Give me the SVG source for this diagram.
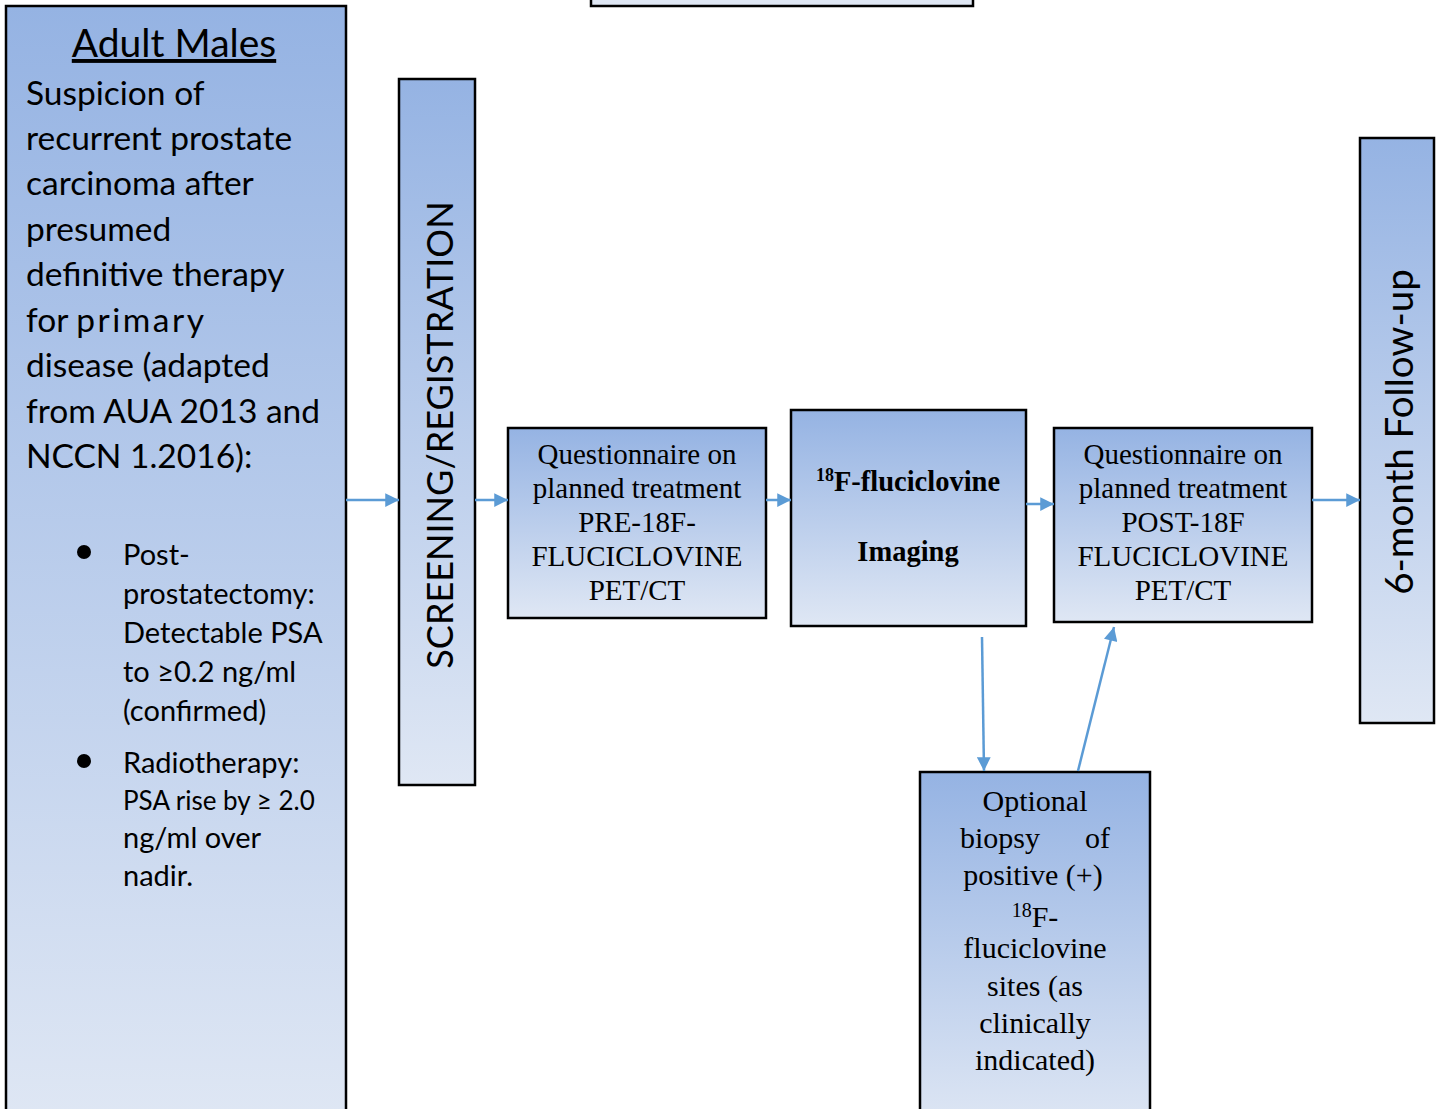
<svg xmlns="http://www.w3.org/2000/svg" width="1439" height="1109" viewBox="0 0 1439 1109">
<defs>
<linearGradient id="g" x1="0" y1="0" x2="0" y2="1">
<stop offset="0" stop-color="#95b3e3"/>
<stop offset="1" stop-color="#dfe7f4"/>
</linearGradient>
<marker id="ah" viewBox="0 0 10 10" refX="10" refY="5" markerWidth="6" markerHeight="5.5" orient="auto" markerUnits="strokeWidth">
<path d="M0,0 L10,5 L0,10 z" fill="#5b9bd5"/>
</marker>
</defs>
<style>
.box{fill:url(#g);stroke:#000;stroke-width:2.5}
.cal{font-family:Lato,"Open Sans",sans-serif;fill:#000}
.tnr{font-family:"Liberation Serif","Times New Roman",serif;fill:#000}
.con{stroke:#5b9bd5;stroke-width:2.5;fill:none;marker-end:url(#ah)}
</style>
<rect width="1439" height="1109" fill="#fff"/>
<g id="top-box"><rect x="591" y="-10" width="382" height="16" fill="#dfe7f4" stroke="#000" stroke-width="2.5"/></g>
<g id="adult-males">
<rect class="box" x="6" y="6" width="340" height="1120"/>
<text class="cal" x="174" y="57" font-size="39" text-anchor="middle" text-decoration="underline">Adult Males</text>
<g class="cal" font-size="33.5">
<text x="26" y="105">Suspicion of</text>
<text x="26" y="150">recurrent prostate</text>
<text x="26" y="195">carcinoma after</text>
<text x="26" y="241">presumed</text>
<text x="26" y="286">definitive therapy</text>
<text x="26" y="332">for <tspan letter-spacing="2.5">primary</tspan></text>
<text x="26" y="377">disease (adapted</text>
<text x="26" y="423">from AUA 2013 and</text>
<text x="26" y="468">NCCN 1.2016):</text>
</g>
<circle cx="84" cy="552" r="7"/>
<circle cx="84" cy="761" r="7"/>
<g class="cal" font-size="29">
<text x="123" y="565">Post-</text>
<text x="123" y="604">prostatectomy:</text>
<text x="123" y="643">Detectable PSA</text>
<text x="123" y="682">to ≥0.2 ng/ml</text>
<text x="123" y="721">(confirmed)</text>
<text x="123" y="773">Radiotherapy:</text>
<text x="123" y="810" font-size="26">PSA rise by ≥ 2.0</text>
<text x="123" y="848">ng/ml over</text>
<text x="123" y="886">nadir.</text>
</g>
</g>
<g id="screening">
<rect class="box" x="399" y="79" width="76" height="706"/>
<text class="cal" transform="translate(453,435) rotate(-90)" font-size="36" text-anchor="middle">SCREENING/REGISTRATION</text>
</g>
<g id="q-pre">
<rect class="box" x="508" y="428" width="258" height="190"/>
<g class="tnr" font-size="29" text-anchor="middle">
<text x="637" y="464">Questionnaire on</text>
<text x="637" y="498">planned treatment</text>
<text x="637" y="532">PRE-18F-</text>
<text x="637" y="566">FLUCICLOVINE</text>
<text x="637" y="600">PET/CT</text>
</g>
</g>
<g id="imaging">
<rect class="box" x="791" y="410" width="235" height="216"/>
<g class="tnr" font-size="28.5" font-weight="bold" text-anchor="middle">
<text x="908" y="491"><tspan font-size="18" dy="-10">18</tspan><tspan dy="10">F-fluciclovine</tspan></text>
<text x="908" y="561">Imaging</text>
</g>
</g>
<g id="q-post">
<rect class="box" x="1054" y="428" width="258" height="194"/>
<g class="tnr" font-size="29" text-anchor="middle">
<text x="1183" y="464">Questionnaire on</text>
<text x="1183" y="498">planned treatment</text>
<text x="1183" y="532">POST-18F</text>
<text x="1183" y="566">FLUCICLOVINE</text>
<text x="1183" y="600">PET/CT</text>
</g>
</g>
<g id="followup">
<rect class="box" x="1360" y="138" width="74" height="585"/>
<text class="cal" transform="translate(1413,432) rotate(-90)" font-size="38.5" text-anchor="middle">6-month Follow-up</text>
</g>
<g id="biopsy">
<rect class="box" x="920" y="772" width="230" height="360"/>
<g class="tnr" font-size="30" text-anchor="middle">
<text x="1035" y="811">Optional</text>
<text x="1035" y="848" xml:space="preserve">biopsy      of</text>
<text x="1033" y="885">positive (+)</text>
<text x="1035" y="927"><tspan font-size="20" dy="-10">18</tspan><tspan dy="10">F-</tspan></text>
<text x="1035" y="958">fluciclovine</text>
<text x="1035" y="996">sites (as</text>
<text x="1035" y="1033">clinically</text>
<text x="1035" y="1070">indicated)</text>
</g>
</g>
<g id="connectors">
<line class="con" x1="346" y1="500" x2="399" y2="500"/>
<line class="con" x1="475" y1="500" x2="508" y2="500"/>
<line class="con" x1="766" y1="500" x2="791" y2="500"/>
<line class="con" x1="1026" y1="504" x2="1054" y2="504"/>
<line class="con" x1="1312" y1="500" x2="1360" y2="500"/>
<line class="con" x1="982" y1="637" x2="984" y2="771"/>
<line class="con" x1="1078" y1="771" x2="1114" y2="627"/>
</g>
</svg>
